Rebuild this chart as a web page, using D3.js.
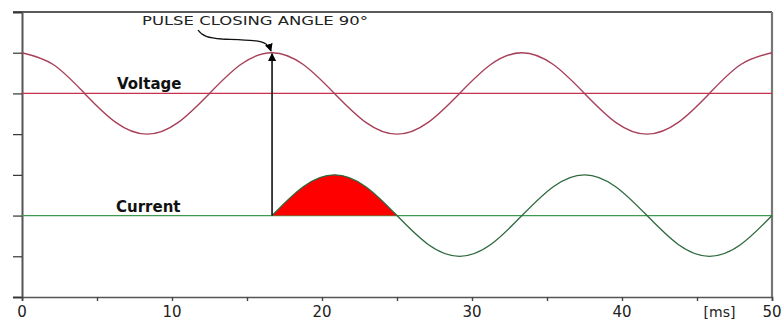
<!DOCTYPE html>
<html>
<head>
<meta charset="utf-8">
<script src="https://cdn.jsdelivr.net/npm/d3@7"></script>
<style>
  body { margin: 0; background: #fff; }
  svg { display: block; }
</style>
</head>
<body>
<div id="chart"></div>
<script>
// time axis in ms, samples every 1/8 period (60 Hz -> 16.67 ms)
const timeMs = [0, 2.08, 4.17, 6.25, 8.33, 10.42, 12.5, 14.58, 16.67, 18.75, 20.83, 22.92, 25,
                27.08, 29.17, 31.25, 33.33, 35.42, 37.5, 39.58, 41.67, 43.75, 45.83, 47.92, 50];
const voltage = [1, 0.71, 0, -0.71, -1, -0.71, 0, 0.71, 1, 0.71, 0, -0.71, -1,
                 -0.71, 0, 0.71, 1, 0.71, 0, -0.71, -1, -0.71, 0, 0.71, 1];
const current = [0, 0, 0, 0, 0, 0, 0, 0, 0, 0.71, 1, 0.71, 0,
                 -0.71, -1, -0.71, 0, 0.71, 1, 0.71, 0, -0.71, -1, -0.71, 0];
const xTicks = [0, 10, 20, 30, 40, 50];
const xMinorTicks = [5, 15, 25, 35, 45];
const closingTime = 16.67;

const width = 784, height = 320;
const margin = { top: 12, right: 12, bottom: 23, left: 22 };
const plotW = width - margin.left - margin.right;
const plotH = height - margin.top - margin.bottom;

const svg = d3.select("#chart").append("svg")
    .attr("width", width)
    .attr("height", height);

const g = svg.append("g")
    .attr("transform", "translate(" + margin.left + "," + margin.top + ")");

const x = d3.scaleLinear().domain([0, 50]).range([0, plotW]);
// shared grid of 7 units; voltage sits at 5, current at 2
const yV = d3.scaleLinear().domain([-5, 2]).range([plotH, 0]);
const yI = d3.scaleLinear().domain([-2, 5]).range([plotH, 0]);
const yGrid = d3.scaleLinear().domain([0, 7]).range([plotH, 0]);

// top border
g.append("line")
    .attr("x1", -9).attr("x2", plotW)
    .attr("y1", 0).attr("y2", 0)
    .attr("stroke", "#222").attr("stroke-width", 1.3);

// right border
g.append("line")
    .attr("x1", plotW).attr("x2", plotW)
    .attr("y1", 0).attr("y2", plotH)
    .attr("stroke", "#777").attr("stroke-width", 2.2);

// left axis with ticks
const yAxis = g.append("g")
    .call(d3.axisLeft(yGrid).tickValues(d3.range(0, 8)).tickSize(9).tickFormat(""));
yAxis.select(".domain").attr("stroke", "#555").attr("stroke-width", 2);
yAxis.selectAll(".tick line").attr("stroke", "#333").attr("stroke-width", 1.2);

// bottom axis
const xAxis = g.append("g")
    .attr("transform", "translate(0," + plotH + ")")
    .call(d3.axisBottom(x).tickValues(xTicks.concat(xMinorTicks)).tickSize(4).tickFormat(""));
xAxis.select(".domain").attr("stroke", "#555").attr("stroke-width", 1.6);
xAxis.selectAll(".tick line").attr("stroke", "#444").attr("stroke-width", 1.4);

g.selectAll(".xlab")
    .data(xTicks)
    .enter()
    .append("text")
    .attr("class", "xlab")
    .attr("x", d => x(d))
    .attr("y", plotH + 20)
    .attr("text-anchor", "middle")
    .attr("font-family", "DejaVu Sans, sans-serif")
    .attr("font-size", "15px")
    .attr("fill", "#222")
    .text(d => d);

g.append("text")
    .attr("x", x(46.5))
    .attr("y", plotH + 20)
    .attr("text-anchor", "middle")
    .attr("font-family", "DejaVu Sans, sans-serif")
    .attr("font-size", "14px")
    .attr("fill", "#222")
    .text("[ms]");

// zero lines
g.append("line")
    .attr("x1", 0).attr("x2", plotW)
    .attr("y1", yV(0)).attr("y2", yV(0))
    .attr("stroke", "#c8304c").attr("stroke-width", 1.3);

g.append("line")
    .attr("x1", 0).attr("x2", plotW)
    .attr("y1", yI(0)).attr("y2", yI(0))
    .attr("stroke", "#3f9a50").attr("stroke-width", 1.3);

const pts = timeMs.map((t, i) => ({ t: t, v: voltage[i], c: current[i] }));

// red area for first current half-cycle
const firstHalf = pts.filter(d => d.t >= closingTime && d.t <= 25);
g.append("path")
    .datum(firstHalf)
    .attr("fill", "#ff0000")
    .attr("d", d3.area()
        .x(d => x(d.t))
        .y0(yI(0))
        .y1(d => yI(d.c))
        .curve(d3.curveNatural));

// voltage curve
g.append("path")
    .datum(pts)
    .attr("fill", "none")
    .attr("stroke", "#a8405a")
    .attr("stroke-width", 1.4)
    .attr("d", d3.line()
        .x(d => x(d.t))
        .y(d => yV(d.v))
        .curve(d3.curveNatural));

// current curve after closing (flat part is the zero line)
const live = pts.filter(d => d.t >= closingTime);
g.append("path")
    .datum(live)
    .attr("fill", "none")
    .attr("stroke", "#2f6a3e")
    .attr("stroke-width", 1.3)
    .attr("d", d3.line()
        .x(d => x(d.t))
        .y(d => yI(d.c))
        .curve(d3.curveNatural));

// arrow markers
const defs = svg.append("defs");
defs.append("marker")
    .attr("id", "arrow")
    .attr("viewBox", "0 0 10 10")
    .attr("refX", 9).attr("refY", 5)
    .attr("markerWidth", 8).attr("markerHeight", 8)
    .attr("markerUnits", "userSpaceOnUse")
    .attr("orient", "auto")
    .append("path")
    .attr("d", "M0,0 L10,5 L0,10 z")
    .attr("fill", "#000");

// vertical arrow from current zero to voltage peak
g.append("line")
    .attr("x1", x(closingTime)).attr("x2", x(closingTime))
    .attr("y1", yI(0)).attr("y2", yV(1) + 1)
    .attr("stroke", "#111").attr("stroke-width", 1.6)
    .attr("marker-end", "url(#arrow)");

// curved pointer from annotation
g.append("path")
    .attr("d", "M176,18 C180,24 186,26 200,27 C225,28 238,28 244,32 C247,34 248,36 249,39")
    .attr("fill", "none")
    .attr("stroke", "#111")
    .attr("stroke-width", 1.3)
    .attr("marker-end", "url(#arrow)");

g.append("text")
    .attr("x", 120)
    .attr("y", 13)
    .attr("font-family", "DejaVu Sans, sans-serif")
    .attr("font-size", "13px")
    .attr("fill", "#222")
    .attr("textLength", 226)
    .attr("lengthAdjust", "spacingAndGlyphs")
    .text("PULSE CLOSING ANGLE 90°");

g.append("text")
    .attr("x", 95)
    .attr("y", 77)
    .attr("font-family", "DejaVu Sans, sans-serif")
    .attr("font-weight", "bold")
    .attr("font-size", "15px")
    .attr("fill", "#111")
    .text("Voltage");

g.append("text")
    .attr("x", 94)
    .attr("y", 200)
    .attr("font-family", "DejaVu Sans, sans-serif")
    .attr("font-weight", "bold")
    .attr("font-size", "15px")
    .attr("fill", "#111")
    .text("Current");
</script>
</body>
</html>
